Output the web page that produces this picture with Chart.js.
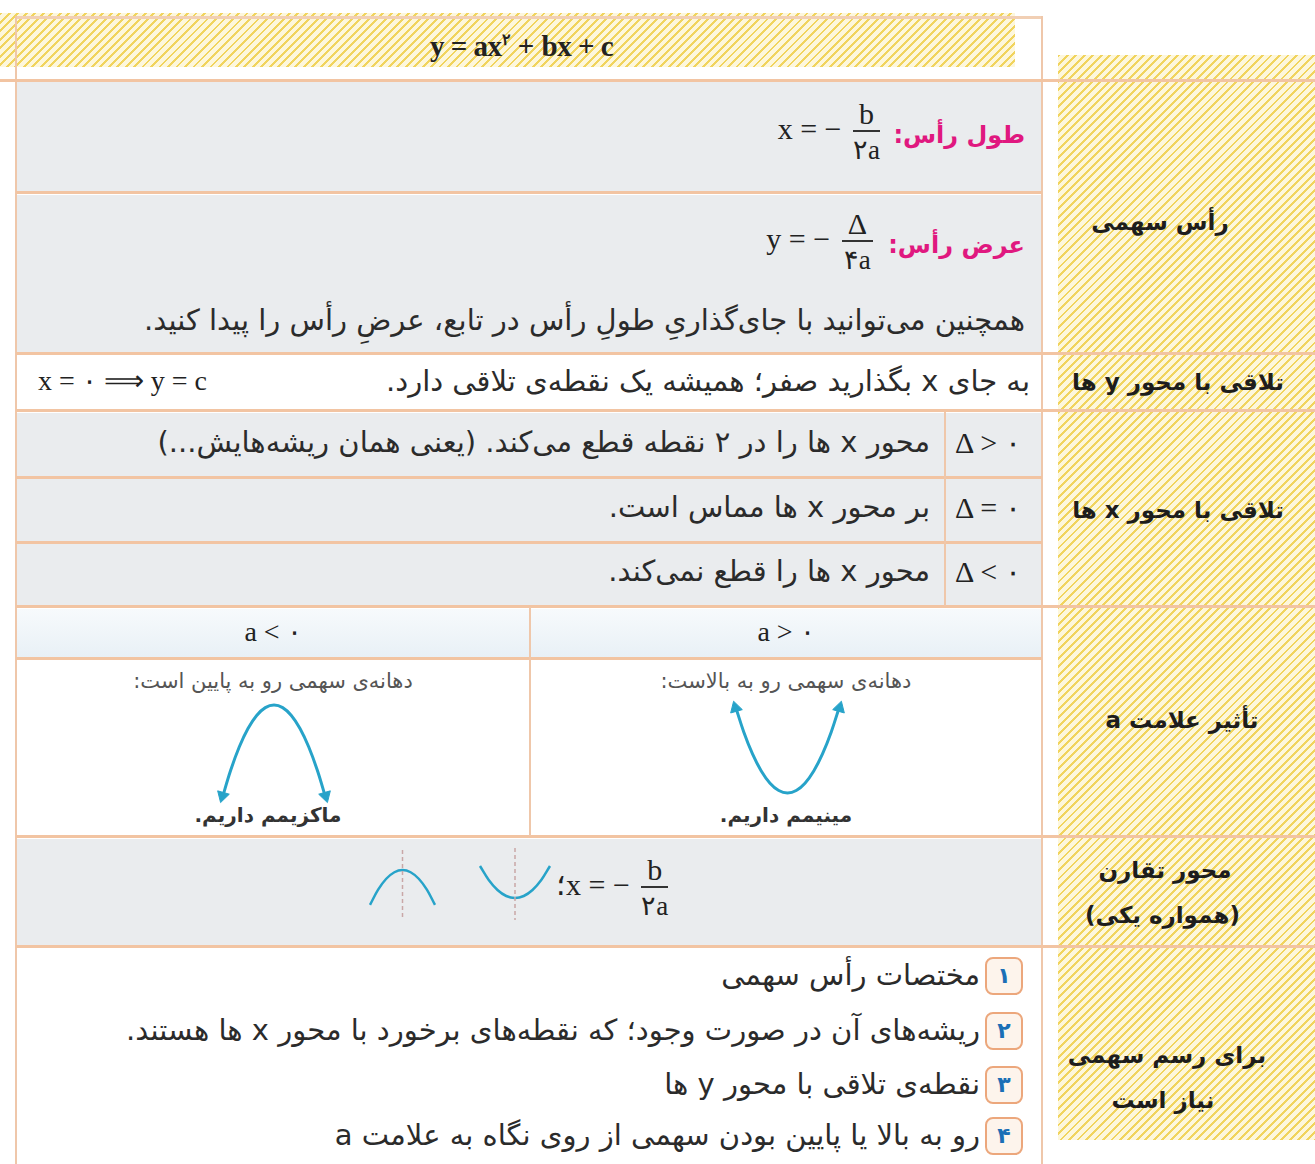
<!DOCTYPE html>
<html lang="fa">
<head>
<meta charset="utf-8">
<script src="https://cdn.jsdelivr.net/npm/chart.js@4.4.1/dist/chart.umd.min.js"></script>
<style>
body { margin: 0; background: #fff; }
#page { position: relative; width: 1315px; height: 1164px; overflow: hidden; font-family: "DejaVu Sans", sans-serif; color: #333; }
.box { position: absolute; }
.hatch { background: repeating-linear-gradient(135deg, #f1d45e 0 2px, #fdf7dc 2px 6px); }
.grey { background: #eaecee; }
.h { position: absolute; height: 3px; background: #f2c4a2; }
.v { position: absolute; width: 2px; background: #efc7aa; }
.t { position: absolute; white-space: nowrap; direction: rtl; font-size: 29px; line-height: 34px; color: #2b2b2b; }
.lbl { position: absolute; white-space: nowrap; direction: rtl; font-weight: bold; color: #1d1d1d; font-size: 23px; line-height: 30px; text-align: center; }
.pink { color: #e0187f; font-weight: bold; }
.m { position: absolute; white-space: nowrap; direction: ltr; font-family: "Liberation Serif", serif; font-size: 30px; color: #222; }
.frac { display: inline-flex; flex-direction: column; vertical-align: middle; text-align: center; line-height: 28px; margin-left: 4px; }
.frac span:first-child { border-bottom: 2px solid #333; padding: 0 6px 2px; }
.frac span:last-child { padding-top: 4px; font-size: 27px; }
.num { position: absolute; width: 34px; height: 34px; border: 2px solid #eca77c; border-radius: 8px; background: #fdf4ec; color: #1b6fb6; font-weight: bold; font-size: 22px; line-height: 34px; text-align: center; }
canvas { position: absolute; }
</style>
</head>
<body>
<div id="page">
  <!-- backgrounds -->
  <div class="box hatch" style="left:0;top:13px;width:1015px;height:54px"></div>
  <div class="box hatch" style="left:1058px;top:55px;width:257px;height:1085px"></div>
  <div class="box grey" style="left:17px;top:82px;width:1024px;height:110px"></div>
  <div class="box grey" style="left:17px;top:195px;width:1024px;height:157px"></div>
  <div class="box grey" style="left:17px;top:413px;width:1024px;height:192px"></div>
  <div class="box" style="left:17px;top:609px;width:1024px;height:49px;background:linear-gradient(#f7fafc,#e8f0f6)"></div>
  <div class="box grey" style="left:17px;top:839px;width:1024px;height:106px"></div>

  <!-- grid lines -->
  <div class="h" style="left:16px;top:16px;width:1027px;background:#f1cfb4"></div>
  <div class="v" style="left:15px;top:16px;height:1148px"></div>
  <div class="v" style="left:1041px;top:16px;height:1148px"></div>
  <div class="h" style="left:0;top:79px;width:1315px"></div>
  <div class="h" style="left:16px;top:191px;width:1026px"></div>
  <div class="h" style="left:16px;top:352px;width:1299px"></div>
  <div class="h" style="left:16px;top:409px;width:1299px"></div>
  <div class="h" style="left:16px;top:476px;width:1026px"></div>
  <div class="h" style="left:16px;top:541px;width:1026px"></div>
  <div class="h" style="left:16px;top:605px;width:1299px"></div>
  <div class="h" style="left:16px;top:657px;width:1026px"></div>
  <div class="h" style="left:16px;top:835px;width:1299px"></div>
  <div class="h" style="left:16px;top:945px;width:1299px"></div>
  <div class="v" style="left:944px;top:412px;height:194px"></div>
  <div class="v" style="left:529px;top:607px;height:229px"></div>

  <!-- title -->
  <div class="m" id="title" style="left:430px;top:30px;font-size:29px;font-weight:bold;letter-spacing:-0.5px"></div>

  <!-- vertex -->
  <div class="t pink" style="right:290px;top:118px;font-size:24px">طول رأس:</div>
  <div class="m" style="right:435px;top:100px">x = − <span class="frac"><span>b</span><span>۲a</span></span></div>
  <div class="t pink" style="right:290px;top:228px;font-size:24px">عرض رأس:</div>
  <div class="m" style="right:442px;top:210px">y = − <span class="frac"><span>Δ</span><span>۴a</span></span></div>
  <div class="t" style="right:290px;top:303px">همچنین می‌توانید با جای‌گذاریِ طولِ رأس در تابع، عرضِ رأس را پیدا کنید.</div>
  <div class="lbl" style="left:1060px;width:200px;top:207px">رأس سهمی</div>

  <!-- y intercept -->
  <div class="t" style="right:285px;top:364px">به جای x بگذارید صفر؛ همیشه یک نقطه‌ی تلاقی دارد.</div>
  <div class="m" style="left:38px;top:364px;font-size:28px">x = ۰ ⟹ y = c</div>
  <div class="lbl" style="left:1058px;width:240px;top:367px">تلاقی با محور y ها</div>

  <!-- x intercept -->
  <div class="m" id="d0" style="left:955px;top:425px"></div>
  <div class="m" id="d1" style="left:955px;top:490px"></div>
  <div class="m" id="d2" style="left:955px;top:554px"></div>
  <div class="t" style="right:385px;top:425px">محور x ها را در ۲ نقطه قطع می‌کند. (یعنی همان ریشه‌هایش...)</div>
  <div class="t" style="right:385px;top:490px">بر محور x ها مماس است.</div>
  <div class="t" style="right:385px;top:554px">محور x ها را قطع نمی‌کند.</div>
  <div class="lbl" style="left:1058px;width:240px;top:495px">تلاقی با محور x ها</div>

  <!-- sign of a -->
  <div class="m" id="s0" style="left:17px;width:512px;text-align:center;top:615px;font-size:28px"></div>
  <div class="m" id="s1" style="left:531px;width:510px;text-align:center;top:615px;font-size:28px"></div>
  <div class="t" style="left:17px;width:512px;text-align:center;top:664px;font-size:21px;color:#555">دهانه‌ی سهمی رو به پایین است:</div>
  <div class="t" style="left:531px;width:510px;text-align:center;top:664px;font-size:21px;color:#555">دهانه‌ی سهمی رو به بالاست:</div>
  <div class="t" style="left:17px;width:502px;text-align:center;top:798px;font-size:20px;font-weight:bold;color:#333">ماکزیمم داریم.</div>
  <div class="t" style="left:531px;width:510px;text-align:center;top:798px;font-size:20px;font-weight:bold;color:#333">مینیمم داریم.</div>
  <canvas id="capChart" width="128" height="118" style="left:210px;top:693px"></canvas>
  <canvas id="cupChart" width="129" height="112" style="left:723px;top:693px"></canvas>
  <div class="lbl" style="left:1058px;width:248px;top:705px">تأثیر علامت a</div>

  <!-- symmetry -->
  <canvas id="capSmall" width="73" height="76" style="left:366px;top:846px"></canvas>
  <canvas id="cupSmall" width="78" height="80" style="left:476px;top:844px"></canvas>
  <div class="m" style="left:556px;top:856px">؛x = − <span class="frac"><span>b</span><span>۲a</span></span></div>
  <div class="lbl" style="left:1060px;width:210px;top:855px">محور تقارن</div>
  <div class="lbl" style="left:1060px;width:205px;top:900px">(همواره یکی)</div>

  <!-- steps -->
  <div id="steps"></div>
  <div class="lbl" style="left:1060px;width:214px;top:1040px">برای رسم سهمی</div>
  <div class="lbl" style="left:1060px;width:206px;top:1085px">نیاز است</div>
</div>

<script>
// text content
const titleText = 'y = ax<sup style="font-size:16px">۲</sup> + bx + c';
const deltaLabels = ['Δ > ۰', 'Δ = ۰', 'Δ < ۰'];
const signLabels = ['a < ۰', 'a > ۰'];
const stepNums = ['۱', '۲', '۳', '۴'];
const stepTexts = [
  'مختصات رأس سهمی',
  'ریشه‌های آن در صورت وجود؛ که نقطه‌های برخورد با محور x ها هستند.',
  'نقطه‌ی تلاقی با محور y ها',
  'رو به بالا یا پایین بودن سهمی از روی نگاه به علامت a'
];
const stepTops = [957, 1012, 1066, 1117];

// parabola points
const bigX = [-3, -2.5, -2, -1.5, -1, -0.5, 0, 0.5, 1, 1.5, 2, 2.5, 3];
const capY = [-9, -6.25, -4, -2.25, -1, -0.25, 0, -0.25, -1, -2.25, -4, -6.25, -9];
const cupY = [9, 6.25, 4, 2.25, 1, 0.25, 0, 0.25, 1, 2.25, 4, 6.25, 9];

// arrowheads at the two ends of each big curve
const arrowX = [-2.97, 2.97];
const capArrowY = [-8.7, -8.7];
const cupArrowY = [8.7, 8.7];
const capArrowRot = [196, 164];
const cupArrowRot = [344, 16];

const smallX = [-2, -1.5, -1, -0.5, 0, 0.5, 1, 1.5, 2];
const smallCapY = [-4, -2.25, -1, -0.25, 0, -0.25, -1, -2.25, -4];
const smallCupY = [4, 2.25, 1, 0.25, 0, 0.25, 1, 2.25, 4];
const axisX = [0, 0];
const axisCapY = [2.3, -5.5];
const axisCupY = [6.25, -2.75];

const curveColor = '#27a3c9';

document.getElementById('title').innerHTML = titleText;
deltaLabels.forEach((s, i) => { document.getElementById('d' + i).textContent = s; });
signLabels.forEach((s, i) => { document.getElementById('s' + i).textContent = s; });

const steps = document.getElementById('steps');
stepTexts.forEach((s, i) => {
  const n = document.createElement('div');
  n.className = 'num';
  n.style.left = '985px';
  n.style.top = stepTops[i] + 'px';
  n.textContent = stepNums[i];
  steps.appendChild(n);
  const t = document.createElement('div');
  t.className = 't';
  t.style.right = (1315 - 980) + 'px';
  t.style.top = (stepTops[i] + 1) + 'px';
  t.textContent = s;
  steps.appendChild(t);
});

function pts(xs, ys) {
  return xs.map((x, i) => ({ x: x, y: ys[i] }));
}

function drawParabola(id, xs, ys, opts) {
  const datasets = [];
  if (opts.axis) {
    datasets.push({
      data: pts(axisX, opts.axis),
      showLine: true,
      borderColor: '#c9a7a7',
      borderWidth: 1.5,
      borderDash: [4, 3],
      pointRadius: 0
    });
  }
  datasets.push({
    data: pts(xs, ys),
    showLine: true,
    borderColor: curveColor,
    borderWidth: opts.width,
    tension: 0.4,
    pointRadius: 0,
    clip: false
  });
  if (opts.arrowY) {
    datasets.push({
      data: pts(arrowX, opts.arrowY),
      showLine: false,
      pointStyle: 'triangle',
      pointRadius: 7,
      pointRotation: opts.rot,
      pointBackgroundColor: curveColor,
      pointBorderColor: curveColor,
      pointBorderWidth: 1,
      clip: false
    });
  }
  new Chart(document.getElementById(id), {
    type: 'scatter',
    data: { datasets: datasets },
    options: {
      responsive: false,
      animation: false,
      events: [],
      layout: { padding: opts.pad },
      plugins: { legend: { display: false }, tooltip: { enabled: false } },
      scales: {
        x: { display: false, min: opts.xr[0], max: opts.xr[1] },
        y: { display: false, min: opts.yr[0], max: opts.yr[1] }
      }
    }
  });
}

drawParabola('capChart', bigX, capY, { width: 3, arrowY: capArrowY, rot: capArrowRot, pad: 12, xr: [-3, 3], yr: [-9, 0] });
drawParabola('cupChart', bigX, cupY, { width: 3, arrowY: cupArrowY, rot: cupArrowRot, pad: 12, xr: [-3, 3], yr: [0, 9] });
drawParabola('capSmall', smallX, smallCapY, { width: 2.5, axis: axisCapY, pad: 4, xr: [-2, 2], yr: [-5.5, 2.3] });
drawParabola('cupSmall', smallX, smallCupY, { width: 2.5, axis: axisCupY, pad: 4, xr: [-2, 2], yr: [-2.75, 6.25] });
</script>
</body>
</html>
